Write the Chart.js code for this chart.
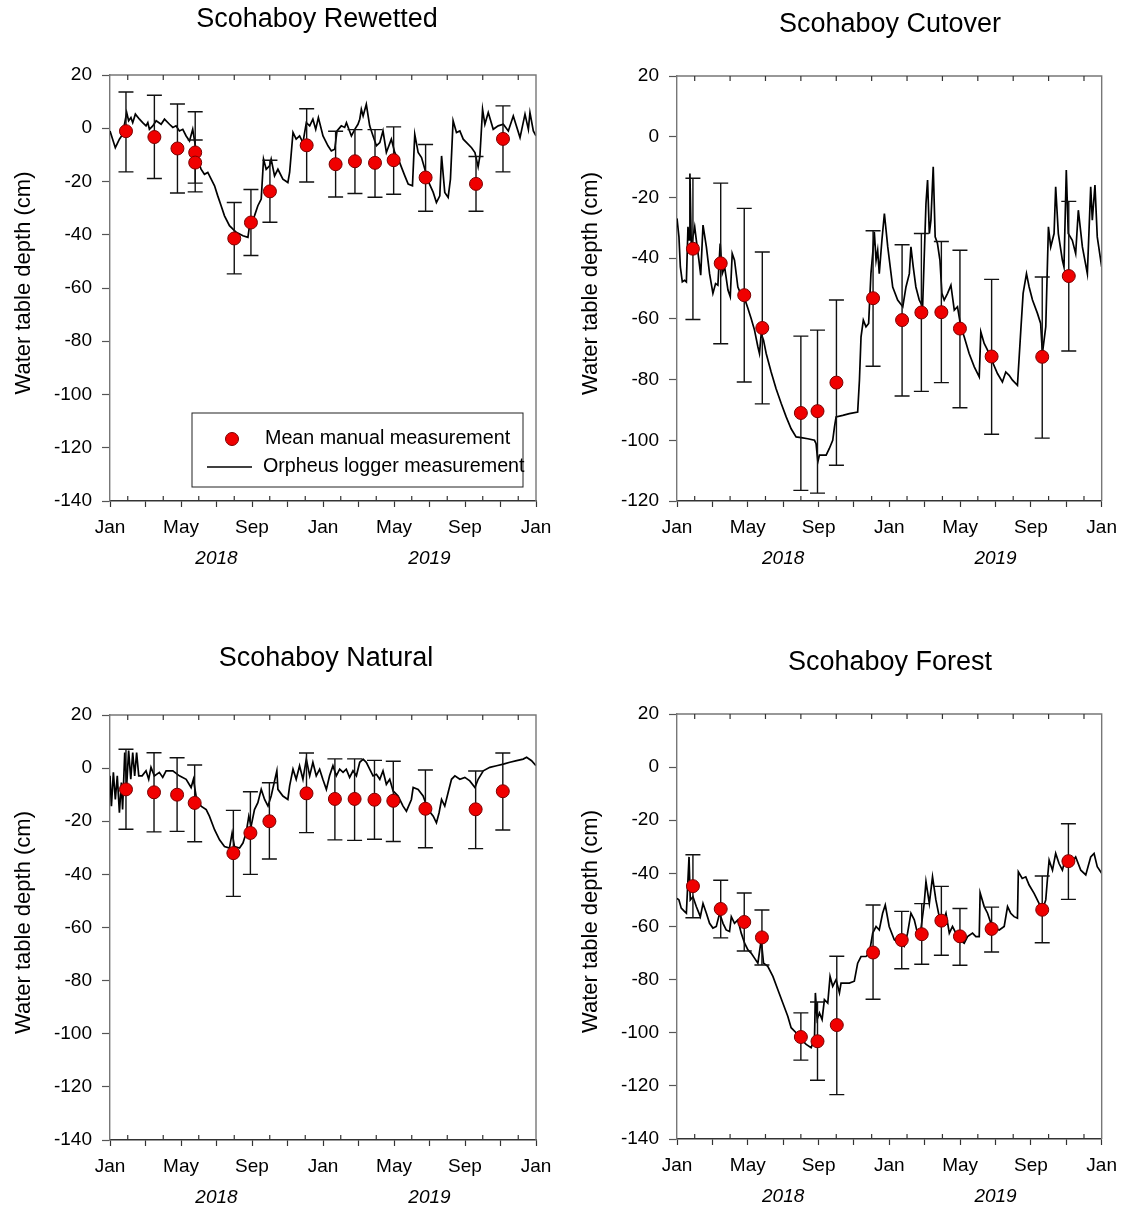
<!DOCTYPE html>
<html>
<head>
<meta charset="utf-8">
<script src="https://cdn.jsdelivr.net/npm/chart.js@4.4.1/dist/chart.umd.min.js"></script>
<style>
  body { margin: 0; background: #fff; width: 1127px; height: 1209px; position: relative; overflow: hidden; }
  .panel { position: absolute; width: 563px; height: 604px; }
</style>
</head>
<body>
<div class="panel" style="left:0;top:0"><canvas id="rewetted" width="563" height="604"></canvas></div>
<div class="panel" style="left:563px;top:0"><canvas id="cutover" width="563" height="604"></canvas></div>
<div class="panel" style="left:0;top:604px"><canvas id="natural" width="563" height="604"></canvas></div>
<div class="panel" style="left:563px;top:604px"><canvas id="forest" width="563" height="604"></canvas></div>
<script>
// x values are months since 1 Jan 2018
const xTickMonths = [0, 4, 8, 12, 16, 20, 24];
const xTickLabels = ['Jan', 'May', 'Sep', 'Jan', 'May', 'Sep', 'Jan'];
const yearLabels = ['2018', '2019'];
const yearLabelMonths = [6, 18];

// mean manual measurements with error bar ends
const rewettedManualX = [0.9, 2.5, 3.8, 4.8, 4.8, 7.0, 7.94, 9.01, 11.08, 12.71, 13.8, 14.93, 15.98, 17.78, 20.62, 22.14];
const rewettedManualMean = [-1.1, -3.3, -7.6, -9.1, -12.9, -41.4, -35.4, -23.7, -6.4, -13.5, -12.4, -13.0, -12.0, -18.5, -20.9, -4.0];
const rewettedManualUpper = [13.6, 12.4, 9.1, 6.2, -4.4, -27.9, -23.0, -12.0, 7.3, -1.1, -0.5, -0.5, 0.5, -6.1, -10.6, 8.4];
const rewettedManualLower = [-16.4, -18.9, -24.3, -23.9, -20.6, -54.7, -47.8, -35.3, -20.2, -25.8, -24.5, -25.9, -24.8, -31.2, -31.2, -16.4];

const cutoverManualX = [0.9, 2.47, 3.8, 4.82, 7.0, 7.94, 9.01, 11.08, 12.72, 13.81, 14.94, 15.99, 17.78, 20.64, 22.14];
const cutoverManualMean = [-36.9, -41.7, -52.2, -63.0, -91.0, -90.4, -81.0, -53.2, -60.4, -57.9, -57.8, -63.2, -72.4, -72.5, -45.9];
const cutoverManualUpper = [-13.7, -15.3, -23.6, -38.0, -65.7, -63.7, -53.8, -31.0, -35.6, -31.9, -34.5, -37.4, -47.0, -46.2, -21.3];
const cutoverManualLower = [-60.2, -68.2, -80.8, -88.0, -116.5, -117.4, -108.2, -75.6, -85.4, -83.9, -81.0, -89.3, -98.0, -99.3, -70.6];

const naturalManualX = [0.9, 2.48, 3.78, 4.77, 6.95, 7.91, 8.98, 11.07, 12.67, 13.78, 14.9, 15.96, 17.77, 20.6, 22.13];
const naturalManualMean = [-8.0, -9.1, -10.0, -13.1, -32.0, -24.4, -20.0, -9.5, -11.6, -11.6, -11.9, -12.3, -15.3, -15.5, -8.7];
const naturalManualUpper = [7.1, 5.8, 3.9, 1.2, -15.9, -8.9, -5.5, 5.7, 3.5, 3.5, 2.9, 2.6, -0.7, -1.1, 5.7];
const naturalManualLower = [-23.0, -24.0, -23.8, -27.7, -48.3, -40.0, -34.2, -24.3, -27.0, -27.2, -26.8, -27.6, -30.0, -30.3, -23.3];

const forestManualX = [0.9, 2.47, 3.8, 4.8, 7.0, 7.94, 9.03, 11.08, 12.7, 13.83, 14.94, 15.99, 17.78, 20.64, 22.12];
const forestManualMean = [-44.8, -53.4, -58.3, -64.1, -101.6, -103.2, -97.1, -69.8, -65.1, -62.9, -57.8, -63.7, -60.9, -53.7, -35.4];
const forestManualUpper = [-33.0, -42.6, -47.4, -53.8, -92.5, -88.4, -71.2, -51.9, -54.3, -51.4, -44.9, -53.2, -52.7, -41.0, -21.3];
const forestManualLower = [-56.7, -64.3, -69.2, -74.5, -110.3, -117.9, -123.3, -87.4, -75.9, -74.2, -70.8, -74.6, -69.6, -66.1, -49.8];

// Orpheus logger readings [month, depth]
const rewettedLogger = [[0,-1],[0.3,-7.3],[0.53,-4.1],[0.71,-2.3],[0.94,5.9],[1.05,2.8],[1.18,4],[1.28,2.1],[1.43,5.3],[1.66,3.4],[1.84,2.1],[2.03,0.9],[2.13,2.1],[2.22,-0.4],[2.41,0.9],[2.6,2.8],[2.88,1.5],[3.07,3.4],[3.35,1.5],[3.54,0.3],[3.72,0.9],[3.91,-1],[4.1,-0.4],[4.29,-2.9],[4.48,-4.8],[4.66,-0.4],[4.81,-6.6],[4.95,-11.6],[5.13,-15.4],[5.32,-17.3],[5.51,-16.6],[5.7,-19.1],[5.89,-21.6],[6.07,-25.4],[6.26,-29.1],[6.45,-32.9],[6.73,-36.6],[7.11,-39.1],[7.49,-40.4],[7.77,-41],[7.86,-36.6],[8.14,-32.9],[8.33,-29.1],[8.52,-26.6],[8.65,-11.6],[8.8,-15.4],[8.99,-14.1],[9.08,-11.6],[9.27,-17.9],[9.46,-15.4],[9.74,-19.1],[10.02,-20.4],[10.12,-16.6],[10.31,-1.6],[10.49,-4.1],[10.68,-2.9],[10.87,-5.4],[11.06,2.1],[11.25,0.9],[11.43,3.4],[11.59,-0.4],[11.74,4],[12,-2.9],[12.28,-6.6],[12.47,-8.5],[12.66,-7.9],[12.79,-1],[13.03,0.9],[13.22,0.3],[13.32,2.1],[13.6,-2.9],[13.79,-0.4],[13.97,1.5],[14.07,3.4],[14.16,7.1],[14.26,4.6],[14.44,9],[14.63,0.9],[14.82,-2.9],[15.01,-6.6],[15.2,-5.4],[15.38,-1],[15.57,-9.1],[15.85,-4.1],[16.04,-9.1],[16.32,-12.9],[16.61,-17.9],[16.8,-21],[17.04,-21.6],[17.17,-2.3],[17.36,-9.1],[17.55,-11],[17.74,-15.4],[17.92,-19.8],[18.21,-24.1],[18.39,-27.9],[18.58,-25.4],[18.68,-10.4],[18.86,-24.1],[19.05,-26],[19.18,-19.1],[19.33,2.8],[19.52,-1.6],[19.71,-1],[19.9,-4.1],[20.09,-5.4],[20.37,-7.3],[20.56,-9.1],[20.74,-14.5],[20.84,-10.4],[20.99,7.1],[21.12,1.5],[21.31,5.9],[21.59,-0.4],[21.87,0.9],[22.16,1.5],[22.44,-1],[22.72,4.6],[23.1,-3.5],[23.38,5.3],[23.57,-0.4],[23.66,5.9],[23.85,-1],[24,-2.9]];

const cutoverLogger = [[0,-26.9],[0.11,-33],[0.19,-42.9],[0.3,-47.8],[0.43,-47.3],[0.53,-47.8],[0.62,-29.7],[0.68,-34],[0.73,-12.1],[0.81,-36.3],[0.9,-33],[1,-29.7],[1.09,-34],[1.24,-40.7],[1.34,-45.6],[1.47,-29.1],[1.66,-36.3],[1.84,-45.1],[2.03,-51.6],[2.18,-48.4],[2.31,-48.9],[2.44,-35.2],[2.56,-45.1],[2.69,-42.9],[2.88,-50.5],[3.01,-52.7],[3.12,-38.5],[3.25,-40.7],[3.44,-49.5],[3.63,-52.2],[3.82,-53.3],[4.01,-56.6],[4.19,-59.9],[4.38,-63.7],[4.57,-69.2],[4.66,-71.4],[4.76,-64.8],[4.89,-67],[5.04,-71.4],[5.32,-77.5],[5.6,-83],[5.89,-87.9],[6.17,-92.3],[6.45,-96.2],[6.73,-98.9],[7.02,-99.1],[7.39,-99.5],[7.77,-100],[7.86,-101.1],[7.96,-107.1],[8.05,-104.9],[8.43,-104.9],[8.61,-102.7],[8.8,-100],[8.9,-95.6],[8.99,-92.3],[9.37,-91.8],[9.74,-91.2],[10.21,-90.7],[10.31,-80.2],[10.4,-65.9],[10.53,-60.4],[10.68,-62.6],[10.83,-61.5],[10.96,-45.1],[11.06,-38.5],[11.15,-31.3],[11.25,-40.7],[11.34,-37.4],[11.43,-45.1],[11.58,-34.1],[11.72,-25.3],[11.91,-36.3],[12.19,-49.5],[12.47,-53.8],[12.76,-56],[12.94,-49.5],[13.13,-45.1],[13.22,-36.3],[13.35,-42.9],[13.5,-49.5],[13.69,-53.8],[13.88,-56],[14.07,-22],[14.16,-14.3],[14.26,-31.9],[14.35,-27.5],[14.48,-9.9],[14.59,-33],[14.72,-35.2],[14.86,-40.7],[14.97,-51.6],[15.1,-53.8],[15.29,-51.6],[15.48,-48.9],[15.67,-57.1],[15.85,-56],[16.04,-62.6],[16.23,-65.9],[16.51,-71.4],[16.8,-75.8],[17.08,-79.1],[17.17,-64.3],[17.36,-68.1],[17.55,-70.3],[17.83,-74.2],[18.11,-78],[18.39,-80.8],[18.58,-77.5],[18.77,-78.6],[18.96,-80.2],[19.24,-81.9],[19.43,-63.7],[19.56,-51.6],[19.75,-45.1],[19.9,-49.5],[20.09,-53.8],[20.37,-58.2],[20.55,-61.5],[20.65,-71.4],[20.84,-62.6],[20.99,-29.7],[21.12,-36.3],[21.31,-31.9],[21.4,-16.5],[21.55,-31.9],[21.78,-40.7],[21.87,-42.9],[22,-11],[22.11,-31.9],[22.34,-34.1],[22.53,-38.5],[22.68,-24.2],[22.91,-36.3],[23.19,-45.1],[23.38,-16.5],[23.47,-27.5],[23.62,-15.9],[23.75,-33],[24,-42.9]];

const naturalLogger = [[0,-2.9],[0.08,-14.3],[0.19,-1.6],[0.3,-11.8],[0.41,-2.9],[0.53,-16.8],[0.64,-5.4],[0.71,-15.6],[0.83,5.9],[0.94,-6.7],[1.05,6.6],[1.17,-4.2],[1.28,5.9],[1.39,-2.9],[1.5,5.9],[1.62,-2.9],[1.81,-2.9],[2.03,-1],[2.18,-4.2],[2.31,0.3],[2.5,-2.9],[2.78,-1.6],[2.97,-3.5],[3.16,-1],[3.54,-1],[3.91,-2.9],[4.29,-4.2],[4.57,-7.3],[4.7,-4.2],[4.85,-10.5],[5.13,-14.3],[5.42,-15.6],[5.6,-18.1],[5.89,-23.2],[6.17,-27],[6.45,-29.5],[6.73,-30.1],[6.88,-24.4],[7.01,-29.5],[7.3,-30.1],[7.49,-28.2],[7.67,-24.4],[7.82,-18.1],[7.95,-21.9],[8.14,-15.6],[8.33,-13],[8.52,-8],[8.71,-11.8],[8.9,-14.3],[9.08,-10.5],[9.4,-1],[9.46,-8],[9.74,-10.5],[10.02,-11.8],[10.12,-6.7],[10.31,-0.4],[10.49,-4.2],[10.68,0.9],[10.87,-4.2],[11.06,3.4],[11.25,-2.9],[11.43,2.2],[11.62,-2.9],[11.81,-0.4],[11.99,-4.2],[12.19,-8],[12.37,-2.9],[12.56,0.9],[12.75,-2.9],[12.94,-0.4],[13.13,-1.6],[13.31,-0.4],[13.5,-3.5],[13.69,-1],[13.88,-2.9],[14.07,2.2],[14.26,3.4],[14.44,2.2],[14.63,-0.4],[14.82,-2.9],[15.01,-2.3],[15.2,-4.2],[15.38,-1],[15.57,-6.1],[15.76,-4.2],[15.95,-8.6],[16.23,-10.5],[16.51,-14.3],[16.7,-16.2],[16.98,-11.8],[17.08,-7.3],[17.36,-8],[17.64,-10.5],[17.92,-15.6],[18.21,-18.1],[18.39,-20.6],[18.54,-16.8],[18.68,-11.8],[18.86,-14.3],[19.05,-9.2],[19.24,-4.2],[19.43,-2.9],[19.71,-4.2],[19.99,-3.5],[20.27,-4.8],[20.56,-7.3],[20.74,-4.2],[21.03,-1],[21.4,0.3],[21.78,0.9],[22.16,1.5],[22.53,2.2],[22.91,2.8],[23.28,3.4],[23.47,4.1],[23.75,2.8],[24,0.9]];

const forestLogger = [[0,-49.4],[0.11,-50],[0.24,-53.1],[0.43,-54.4],[0.53,-55],[0.68,-33.8],[0.75,-50],[0.9,-48.8],[1.09,-52.5],[1.32,-56.3],[1.47,-51.3],[1.66,-55],[1.84,-58.8],[2.03,-60.6],[2.22,-60],[2.41,-55],[2.6,-58.8],[2.78,-61.3],[2.97,-61.9],[3.07,-56.3],[3.25,-58.8],[3.44,-57.5],[3.63,-62.5],[3.82,-66.3],[4.01,-68.8],[4.19,-70],[4.38,-71.9],[4.57,-73.8],[4.76,-65],[4.89,-73.8],[5.13,-75],[5.42,-78.8],[5.7,-83.8],[5.98,-88.8],[6.26,-93.8],[6.45,-98.1],[6.73,-100],[7.02,-102.5],[7.3,-104.4],[7.58,-105.6],[7.77,-102.5],[7.82,-85],[7.92,-95],[8.05,-92.5],[8.2,-95],[8.33,-87.5],[8.52,-88.8],[8.65,-78.8],[8.8,-82.5],[8.99,-80],[9.18,-85],[9.27,-81.3],[9.46,-81.3],[9.74,-81.3],[10.02,-80.6],[10.21,-73.8],[10.4,-71.3],[10.68,-71.3],[10.87,-70],[11.06,-62.5],[11.25,-60],[11.43,-61.3],[11.62,-55],[11.77,-51.9],[11.99,-60],[12.28,-65],[12.56,-66.3],[12.84,-67.5],[13.03,-62.5],[13.22,-55],[13.41,-57.5],[13.59,-62.5],[13.78,-61.3],[13.97,-51.3],[14.07,-43.1],[14.26,-51.3],[14.44,-41.3],[14.63,-50],[14.82,-56.3],[15.01,-58.8],[15.2,-55],[15.39,-62.5],[15.57,-60],[15.76,-62.5],[15.95,-65],[16.23,-66.3],[16.42,-63.8],[16.7,-62.5],[16.89,-63.8],[17.08,-63.8],[17.13,-47.3],[17.36,-52.5],[17.55,-55],[17.74,-58.8],[17.92,-60.6],[18.21,-61.3],[18.49,-60],[18.68,-52.5],[18.86,-55],[19.05,-56.3],[19.24,-56.9],[19.29,-39.4],[19.51,-41.9],[19.71,-41.3],[19.9,-44.4],[20.18,-47.5],[20.46,-51.3],[20.65,-53.8],[20.84,-50],[20.93,-42.5],[21.03,-35],[21.22,-38.8],[21.4,-32.5],[21.59,-36.3],[21.78,-38.8],[21.97,-33.8],[22.25,-36.3],[22.53,-33.8],[22.82,-38.8],[23.1,-40.6],[23.38,-33.8],[23.57,-32.5],[23.75,-37.5],[24,-40]];

const FONT = "'Liberation Sans', Arial, sans-serif";
Chart.defaults.font.family = FONT;
Chart.defaults.color = '#000';

function makePanel(cfg) {
  const area = cfg.area; // wanted chart area inside the 563x604 canvas
  const extras = {
    id: 'extras',
    beforeDatasetDraw(chart, args) {
      if (args.index !== 0) return;
      const x = chart.scales.x, y = chart.scales.y, ctx = chart.ctx;
      ctx.save();
      ctx.strokeStyle = '#111';
      ctx.lineWidth = 1.4;
      cfg.manualX.forEach((m, i) => {
        const px = x.getPixelForValue(m);
        const top = y.getPixelForValue(cfg.upper[i]);
        const bot = y.getPixelForValue(cfg.lower[i]);
        ctx.beginPath();
        ctx.moveTo(px, top); ctx.lineTo(px, bot);
        ctx.moveTo(px - 7.5, top); ctx.lineTo(px + 7.5, top);
        ctx.moveTo(px - 7.5, bot); ctx.lineTo(px + 7.5, bot);
        ctx.stroke();
      });
      ctx.restore();
    },
    afterDraw(chart) {
      const ctx = chart.ctx, ca = chart.chartArea, x = chart.scales.x;
      ctx.save();
      // top and right frame
      ctx.strokeStyle = '#777';
      ctx.lineWidth = 1.4;
      ctx.beginPath();
      ctx.moveTo(ca.left, ca.top); ctx.lineTo(ca.right, ca.top); ctx.lineTo(ca.right, ca.bottom);
      ctx.stroke();
      // odd month ticks pointing inward, top and bottom
      ctx.strokeStyle = '#333';
      ctx.lineWidth = 1.2;
      ctx.beginPath();
      for (let m = 1; m < 24; m += 2) {
        const px = x.getPixelForValue(m);
        ctx.moveTo(px, ca.bottom); ctx.lineTo(px, ca.bottom - 5);
        ctx.moveTo(px, ca.top); ctx.lineTo(px, ca.top + 5);
      }
      ctx.stroke();

      ctx.fillStyle = '#000';
      // panel title
      ctx.font = '27px ' + FONT;
      ctx.textAlign = 'center';
      ctx.textBaseline = 'middle';
      ctx.fillText(cfg.title, cfg.titleX, cfg.titleY);
      // year labels
      ctx.font = 'italic 19px ' + FONT;
      yearLabels.forEach((t, i) => {
        ctx.fillText(t, x.getPixelForValue(yearLabelMonths[i]), ca.bottom + 58);
      });
      // y axis title
      ctx.font = '22px ' + FONT;
      ctx.translate(ca.left - 86, (ca.top + ca.bottom) / 2 - 5);
      ctx.rotate(-Math.PI / 2);
      ctx.fillText('Water table depth (cm)', 0, 0);
      ctx.restore();

      if (cfg.legend) {
        const L = cfg.legend;
        ctx.save();
        ctx.strokeStyle = '#222';
        ctx.lineWidth = 1;
        ctx.strokeRect(L.x, L.y, L.w, L.h);
        ctx.beginPath();
        ctx.arc(L.x + 40, L.y + 26, 6.5, 0, Math.PI * 2);
        ctx.fillStyle = '#f00000';
        ctx.fill();
        ctx.strokeStyle = '#7a0000';
        ctx.stroke();
        ctx.strokeStyle = '#000';
        ctx.lineWidth = 1.6;
        ctx.beginPath();
        ctx.moveTo(L.x + 15, L.y + 54); ctx.lineTo(L.x + 60, L.y + 54);
        ctx.stroke();
        ctx.fillStyle = '#000';
        ctx.font = '19.7px ' + FONT;
        ctx.textBaseline = 'middle';
        ctx.fillText(chart.data.datasets[0].label, L.x + 73, L.y + 26);
        ctx.fillText(chart.data.datasets[1].label, L.x + 71, L.y + 54);
        ctx.restore();
      }
    }
  };

  return new Chart(document.getElementById(cfg.id), {
    type: 'scatter',
    data: {
      datasets: [{
        label: 'Mean manual measurement',
        data: cfg.manualX.map((m, i) => ({ x: m, y: cfg.mean[i] })),
        pointRadius: 6.5,
        pointBackgroundColor: '#f00000',
        pointBorderColor: '#7a0000',
        pointBorderWidth: 1
      }, {
        label: 'Orpheus logger measurement',
        data: cfg.logger.map(p => ({ x: p[0], y: p[1] })),
        showLine: true,
        pointRadius: 0,
        borderColor: '#000',
        borderWidth: 1.7,
        tension: 0
      }]
    },
    options: {
      responsive: false,
      animation: false,
      layout: { padding: { top: area.top, right: 563 - area.right, left: 0, bottom: 0 } },
      plugins: { legend: { display: false }, tooltip: { enabled: false } },
      scales: {
        x: {
          type: 'linear', min: 0, max: 24,
          afterFit: s => { s.height = 604 - area.bottom; },
          afterBuildTicks: s => { s.ticks = []; for (let m = 0; m <= 24; m += 2) s.ticks.push({ value: m }); },
          ticks: {
            autoSkip: false, maxRotation: 0, padding: 9,
            font: { size: 19 }, color: '#000',
            callback: v => { const k = xTickMonths.indexOf(v); return k >= 0 ? xTickLabels[k] : ''; }
          },
          grid: { drawOnChartArea: false, tickLength: 6, tickColor: '#333', tickWidth: 1.2 },
          border: { color: '#333', width: 1.4 }
        },
        y: {
          min: cfg.yMin, max: 20,
          afterFit: s => { s.width = area.left; },
          ticks: { stepSize: 20, padding: 10, font: { size: 19 }, color: '#000' },
          grid: { drawOnChartArea: false, tickLength: 8, tickColor: '#555', tickWidth: 1.2 },
          border: { color: '#777', width: 1.4 }
        }
      }
    },
    plugins: [extras]
  });
}

makePanel({
  id: 'rewetted', title: 'Scohaboy Rewetted', titleX: 317, titleY: 20,
  area: { left: 110, top: 75, right: 536, bottom: 501 }, yMin: -140,
  manualX: rewettedManualX, mean: rewettedManualMean, upper: rewettedManualUpper, lower: rewettedManualLower,
  logger: rewettedLogger,
  legend: { x: 192, y: 413, w: 331, h: 74 }
});
makePanel({
  id: 'cutover', title: 'Scohaboy Cutover', titleX: 327, titleY: 25,
  area: { left: 114, top: 76, right: 540, bottom: 501 }, yMin: -120,
  manualX: cutoverManualX, mean: cutoverManualMean, upper: cutoverManualUpper, lower: cutoverManualLower,
  logger: cutoverLogger
});
makePanel({
  id: 'natural', title: 'Scohaboy Natural', titleX: 326, titleY: 55,
  area: { left: 110, top: 111, right: 536, bottom: 536 }, yMin: -140,
  manualX: naturalManualX, mean: naturalManualMean, upper: naturalManualUpper, lower: naturalManualLower,
  logger: naturalLogger
});
makePanel({
  id: 'forest', title: 'Scohaboy Forest', titleX: 327, titleY: 59,
  area: { left: 114, top: 110, right: 540, bottom: 535 }, yMin: -140,
  manualX: forestManualX, mean: forestManualMean, upper: forestManualUpper, lower: forestManualLower,
  logger: forestLogger
});
</script>
</body>
</html>
